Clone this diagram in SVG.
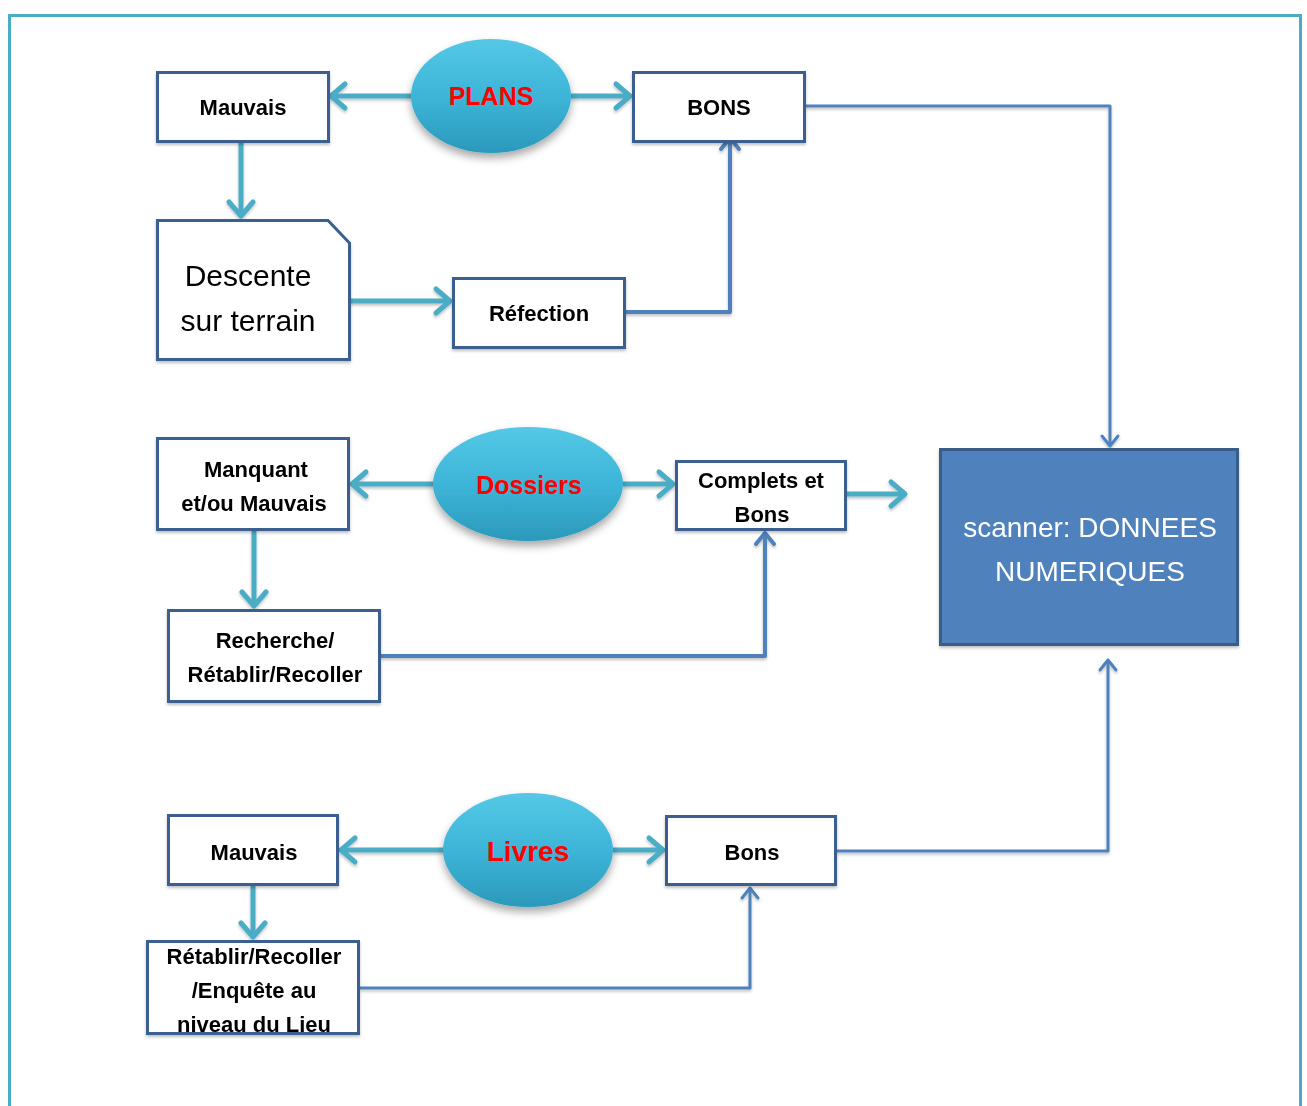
<svg xmlns="http://www.w3.org/2000/svg" width="1307" height="1106" viewBox="0 0 1307 1106">
  <style>
    .box { fill: #ffffff; stroke: #3a5f8e; stroke-width: 3; }
    .edge { fill: none; stroke: #3a5f8e; stroke-width: 3; }
    .lbl { font-family: "Liberation Sans", Arial, sans-serif; font-weight: bold; font-size: 22px; fill: #000000; text-anchor: middle; }
    .big { font-family: "Liberation Sans", Arial, sans-serif; font-size: 30px; fill: #000000; text-anchor: middle; }
    .hub { font-family: "Liberation Sans", Arial, sans-serif; font-weight: bold; fill: #ff0000; text-anchor: middle; }
    .out { font-family: "Liberation Sans", Arial, sans-serif; font-size: 28px; fill: #ffffff; text-anchor: middle; }
    .teal { fill: none; stroke: #4bacc6; stroke-width: 5; marker-end: url(#headTeal); }
    .blue { fill: none; stroke: #4f81bd; stroke-width: 4; stroke-linejoin: round; marker-end: url(#headBlue); }
    .thin { fill: none; stroke: #4f81bd; stroke-width: 3; stroke-linejoin: round; marker-end: url(#headThin); }
  </style>
  <defs>
    <linearGradient id="hubFill" x1="0" y1="0" x2="0" y2="1">
      <stop offset="0" stop-color="#55c8e6"/>
      <stop offset="0.5" stop-color="#3db5d8"/>
      <stop offset="1" stop-color="#2b99bb"/>
    </linearGradient>
    <filter id="soft" x="-10%" y="-10%" width="130%" height="140%">
      <feDropShadow dx="0" dy="2" stdDeviation="1.5" flood-color="#000000" flood-opacity="0.25"/>
    </filter>
    <filter id="hubShadow" x="-20%" y="-20%" width="140%" height="150%">
      <feDropShadow dx="0" dy="5" stdDeviation="4" flood-color="#000000" flood-opacity="0.35"/>
    </filter>
    <marker id="headTeal" viewBox="-20 -16 24 32" refX="0" refY="0" markerWidth="24" markerHeight="32" markerUnits="userSpaceOnUse" orient="auto">
      <path d="M-14,-12 L0,0 L-14,12" fill="none" stroke="#4bacc6" stroke-width="5" stroke-linecap="round" stroke-linejoin="round"/>
    </marker>
    <marker id="headBlue" viewBox="-16 -13 20 26" refX="0" refY="0" markerWidth="20" markerHeight="26" markerUnits="userSpaceOnUse" orient="auto">
      <path d="M-11,-9 L0,0 L-11,9" fill="none" stroke="#4f81bd" stroke-width="4" stroke-linecap="round" stroke-linejoin="round"/>
    </marker>
    <marker id="headThin" viewBox="-16 -12 20 24" refX="0" refY="0" markerWidth="20" markerHeight="24" markerUnits="userSpaceOnUse" orient="auto">
      <path d="M-10,-8 L0,0 L-10,8" fill="none" stroke="#4f81bd" stroke-width="3" stroke-linecap="round" stroke-linejoin="round"/>
    </marker>
  </defs>

  <rect x="0" y="0" width="1307" height="1106" fill="#ffffff"/>
  <!-- outer frame, open at the bottom -->
  <path d="M9.5,1106 V15.5 H1300.5 V1106" fill="none" stroke="#4bacc6" stroke-width="3"/>

  <!-- connectors -->
  <g id="connectors" filter="url(#soft)">
    <!-- PLANS -->
    <path class="teal" d="M412,96 H331"/>
    <path class="teal" d="M571,96 H630"/>
    <path class="teal" d="M241,142 V216"/>
    <path class="teal" d="M350,301 H450"/>
    <path class="blue" d="M625,312 H730 V138"/>
    <path class="thin" d="M805,106 H1110 V446"/>
    <!-- Dossiers -->
    <path class="teal" d="M434,484 H352"/>
    <path class="teal" d="M623,484 H673"/>
    <path class="teal" d="M847,494 H905"/>
    <path class="teal" d="M254,531 V606"/>
    <path class="blue" d="M381,656 H765 V533"/>
    <!-- Livres -->
    <path class="teal" d="M444,850 H341"/>
    <path class="teal" d="M613,850 H663"/>
    <path class="teal" d="M253,886 V937"/>
    <path class="thin" d="M360,988 H750 V888"/>
    <path class="thin" d="M836,851 H1108 V660"/>
  </g>

  <!-- PLANS branch -->
  <g id="plans">
    <ellipse cx="491" cy="96" rx="80" ry="57" fill="url(#hubFill)" filter="url(#hubShadow)"/>
    <text class="hub" x="491" y="105" font-size="25">PLANS</text>
  </g>
  <g id="plans-mauvais" filter="url(#soft)">
    <rect class="box" x="157.5" y="72.5" width="171" height="69"/>
    <text class="lbl" x="243" y="115">Mauvais</text>
  </g>
  <g id="plans-bons" filter="url(#soft)">
    <rect class="box" x="633.5" y="72.5" width="171" height="69"/>
    <text class="lbl" x="719" y="115">BONS</text>
  </g>
  <g id="descente" filter="url(#soft)">
    <path class="box" d="M157.5,220.5 H328 L349.5,243 V359.5 H157.5 Z"/>
    <text class="big" x="248" y="286">Descente</text>
    <text class="big" x="248" y="331">sur terrain</text>
  </g>
  <g id="refection" filter="url(#soft)">
    <rect class="box" x="453.5" y="278.5" width="171" height="69"/>
    <text class="lbl" x="539" y="321">Réfection</text>
  </g>

  <!-- Dossiers branch -->
  <g id="dossiers">
    <ellipse cx="528" cy="484" rx="95" ry="57" fill="url(#hubFill)" filter="url(#hubShadow)"/>
    <text class="hub" x="529" y="494" font-size="25">Dossiers</text>
  </g>
  <g id="manquant" filter="url(#soft)">
    <rect class="box" x="157.5" y="438.5" width="191" height="91"/>
    <text class="lbl" x="256" y="477">Manquant</text>
    <text class="lbl" x="254" y="511">et/ou Mauvais</text>
  </g>
  <g id="complets" filter="url(#soft)">
    <rect class="box" x="676.5" y="461.5" width="169" height="68"/>
    <text class="lbl" x="761" y="488">Complets et</text>
    <text class="lbl" x="762" y="522">Bons</text>
  </g>
  <g id="recherche" filter="url(#soft)">
    <rect class="box" x="168.5" y="610.5" width="211" height="91"/>
    <text class="lbl" x="275" y="648">Recherche/</text>
    <text class="lbl" x="275" y="682">Rétablir/Recoller</text>
  </g>

  <!-- output -->
  <g id="scanner" filter="url(#soft)">
    <rect x="940.5" y="449.5" width="297" height="195" fill="#4f81bd" stroke="#385d8a" stroke-width="3"/>
    <text class="out" x="1090" y="537">scanner: DONNEES</text>
    <text class="out" x="1090" y="581">NUMERIQUES</text>
  </g>

  <!-- Livres branch -->
  <g id="livres">
    <ellipse cx="528" cy="850" rx="85" ry="57" fill="url(#hubFill)" filter="url(#hubShadow)"/>
    <text class="hub" x="528" y="861" font-size="28">Livres</text>
  </g>
  <g id="livres-mauvais" filter="url(#soft)">
    <rect class="box" x="168.5" y="815.5" width="169" height="69"/>
    <text class="lbl" x="254" y="860">Mauvais</text>
  </g>
  <g id="livres-bons" filter="url(#soft)">
    <rect class="box" x="666.5" y="816.5" width="169" height="68"/>
    <text class="lbl" x="752" y="860">Bons</text>
  </g>
  <g id="retablir" filter="url(#soft)">
    <rect x="147.5" y="941.5" width="211" height="92" fill="#ffffff"/>
    <text class="lbl" x="254" y="964">Rétablir/Recoller</text>
    <text class="lbl" x="254" y="998">/Enquête au</text>
    <text class="lbl" x="254" y="1032">niveau du Lieu</text>
    <rect x="147.5" y="941.5" width="211" height="92" fill="none" stroke="#3a5f8e" stroke-width="3"/>
  </g>
</svg>
